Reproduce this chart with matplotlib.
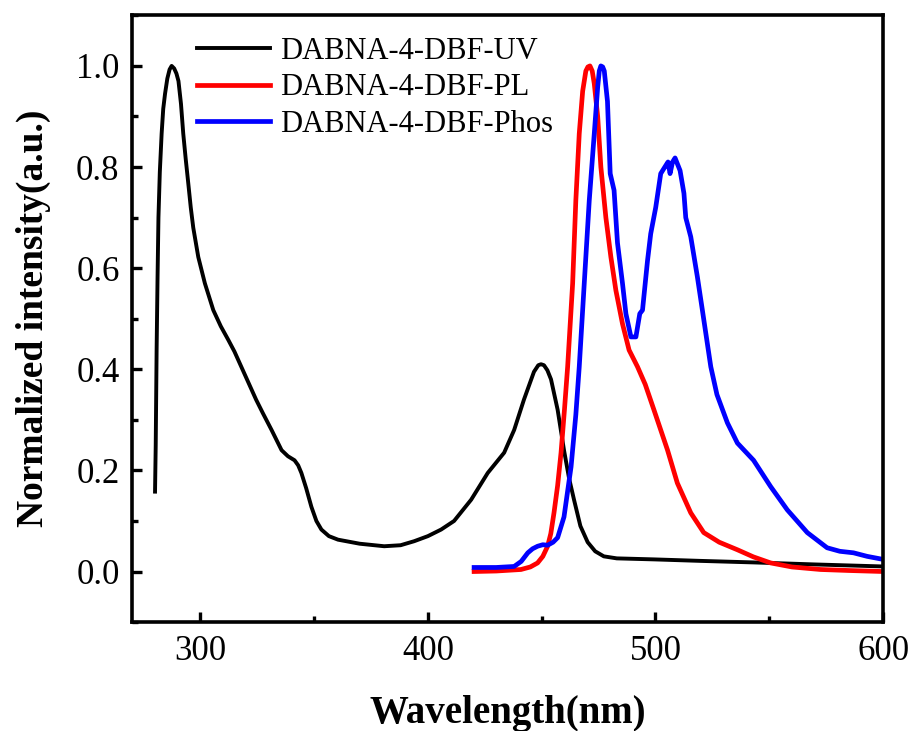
import matplotlib
matplotlib.use("Agg")
import matplotlib.pyplot as plt
from matplotlib.ticker import MultipleLocator

# absorption spectrum
uv_wl = [280.1, 280.4, 280.8, 281.2, 281.6, 282.2, 283.0, 283.7, 284.5, 285.5, 286.5,
         287.4, 288.5, 289.5, 290.4, 291.5, 292.5, 293.6, 294.7, 295.8, 296.9, 299.1,
         302.0, 305.7, 309.0, 312.3, 315.0, 318.0, 321.5, 324.5, 327.5, 331.3, 335.7,
         338.5, 341.4, 343.0, 344.4, 346.5, 348.8, 351.0, 353.2, 356.5, 360.5, 370.0,
         380.8, 388.0, 394.0, 400.0, 405.8, 411.5, 419.0, 426.3, 433.5, 437.9, 442.2,
         445.0, 446.6, 448.5, 449.7, 451.0, 452.5, 454.1, 457.0, 459.8, 462.0, 464.2,
         467.0, 470.2, 473.5, 477.3, 483.0, 499.3, 520.0, 543.1, 570.0, 600.0]
uv_int = [0.158, 0.25, 0.44, 0.58, 0.70, 0.79, 0.866, 0.915, 0.945, 0.975, 0.993,
          1.00, 0.995, 0.985, 0.97, 0.925, 0.866, 0.815, 0.768, 0.72, 0.68, 0.622,
          0.57, 0.517, 0.485, 0.458, 0.435, 0.405, 0.37, 0.34, 0.313, 0.28, 0.24,
          0.228, 0.22, 0.21, 0.195, 0.165, 0.128, 0.100, 0.083, 0.070, 0.063, 0.055,
          0.050, 0.052, 0.060, 0.070, 0.083, 0.10, 0.142, 0.195, 0.235, 0.28, 0.34,
          0.375, 0.395, 0.408, 0.41, 0.408, 0.398, 0.38, 0.32, 0.24, 0.185, 0.142,
          0.09, 0.058, 0.040, 0.030, 0.026, 0.024, 0.021, 0.018, 0.014, 0.010]

# fluorescence
pl_wl = [420.3, 430.0, 440.9, 445.0, 448.2, 450.5, 452.6, 454.0, 455.4, 457.0, 458.5,
         460.0, 461.4, 463.6, 465.0, 466.5, 468.0, 469.4, 470.3, 471.2, 472.2, 473.1,
         474.6, 476.0, 478.2, 480.4, 482.6, 485.5, 488.4, 492.1, 495.5, 499.3, 505.3,
         509.6, 515.5, 521.2, 528.0, 536.0, 543.0, 550.6, 560.0, 572.5, 585.0, 600.0]
pl_int = [0.0, 0.001, 0.004, 0.009, 0.017, 0.030, 0.05, 0.075, 0.116, 0.17, 0.235,
          0.32, 0.405, 0.57, 0.734, 0.866, 0.95, 0.99, 0.998, 1.00, 0.99, 0.965,
          0.90, 0.80, 0.70, 0.622, 0.556, 0.49, 0.438, 0.405, 0.37, 0.32, 0.24,
          0.175, 0.116, 0.077, 0.058, 0.043, 0.029, 0.017, 0.009, 0.004, 0.002, 0.0]

# phosphorescence
ph_wl = [420.3, 430.0, 437.9, 441.0, 443.9, 446.0, 448.2, 450.5, 452.6, 455.0, 457.0,
         459.8, 462.9, 465.0, 466.5, 468.7, 470.9, 473.1, 474.6, 475.3, 476.0, 476.8,
         477.5, 478.9, 480.1, 481.8, 483.3, 485.5, 487.0, 489.2, 491.4, 493.1, 494.3,
         496.5, 497.9, 500.1, 502.3, 504.1, 505.5, 506.4, 507.5, 508.6, 510.8, 512.5,
         513.3, 515.5, 518.4, 520.6, 524.3, 527.0, 531.6, 536.0, 543.1, 550.6, 557.9,
         566.7, 575.4, 581.0, 587.0, 593.0, 600.0]
ph_int = [0.008, 0.008, 0.010, 0.020, 0.037, 0.045, 0.050, 0.053, 0.052, 0.058, 0.067,
          0.108, 0.207, 0.31, 0.405, 0.57, 0.734, 0.866, 0.958, 0.99, 1.00, 0.998,
          0.99, 0.93, 0.787, 0.754, 0.65, 0.57, 0.51, 0.464, 0.464, 0.51, 0.517,
          0.615, 0.668, 0.72, 0.787, 0.80, 0.81, 0.787, 0.81, 0.818, 0.793, 0.748,
          0.70, 0.662, 0.583, 0.517, 0.405, 0.35, 0.294, 0.254, 0.22, 0.168, 0.122,
          0.077, 0.047, 0.040, 0.037, 0.030, 0.024]

labels = ["DABNA-4-DBF-UV", "DABNA-4-DBF-PL", "DABNA-4-DBF-Phos"]

plt.rcParams["font.family"] = ["Liberation Serif", "DejaVu Serif"]

fig = plt.figure(figsize=(9.17, 7.31), dpi=100)
ax = fig.add_axes([0.144, 0.149, 0.819, 0.830])

ax.plot(uv_wl, uv_int, color="black", lw=2.8, solid_joinstyle="round", label=labels[0])
ax.plot(pl_wl, pl_int, color="#ff0000", lw=3.4, solid_joinstyle="round", label=labels[1])
ax.plot(ph_wl, ph_int, color="#0000ff", lw=3.4, solid_joinstyle="round", label=labels[2])

ax.set_xlim(270, 600)
ax.set_ylim(-0.1, 1.1)
ax.xaxis.set_major_locator(MultipleLocator(100))
ax.xaxis.set_minor_locator(MultipleLocator(50))
ax.yaxis.set_major_locator(MultipleLocator(0.2))
ax.yaxis.set_minor_locator(MultipleLocator(0.1))
ax.yaxis.set_major_formatter(matplotlib.ticker.FormatStrFormatter("%.1f"))

for sp in ax.spines.values():
    sp.set_linewidth(2.6)
ax.tick_params(which="both", direction="in", width=2.4, labelsize=25,
               top=False, right=False)
ax.tick_params(which="major", length=7, pad=9)
ax.tick_params(which="minor", length=4)

ax.set_xlabel("Wavelength(nm)", fontsize=28, fontweight="bold", labelpad=20)
ax.set_ylabel("Normalized intensity(a.u.)", fontsize=27, fontweight="bold", labelpad=18)

ax.legend(loc="upper left", bbox_to_anchor=(0.05, 1.01), frameon=False,
          fontsize=22, handlelength=2.4, labelspacing=0.25, handletextpad=0.3)

fig.savefig("out.png", dpi=100)
